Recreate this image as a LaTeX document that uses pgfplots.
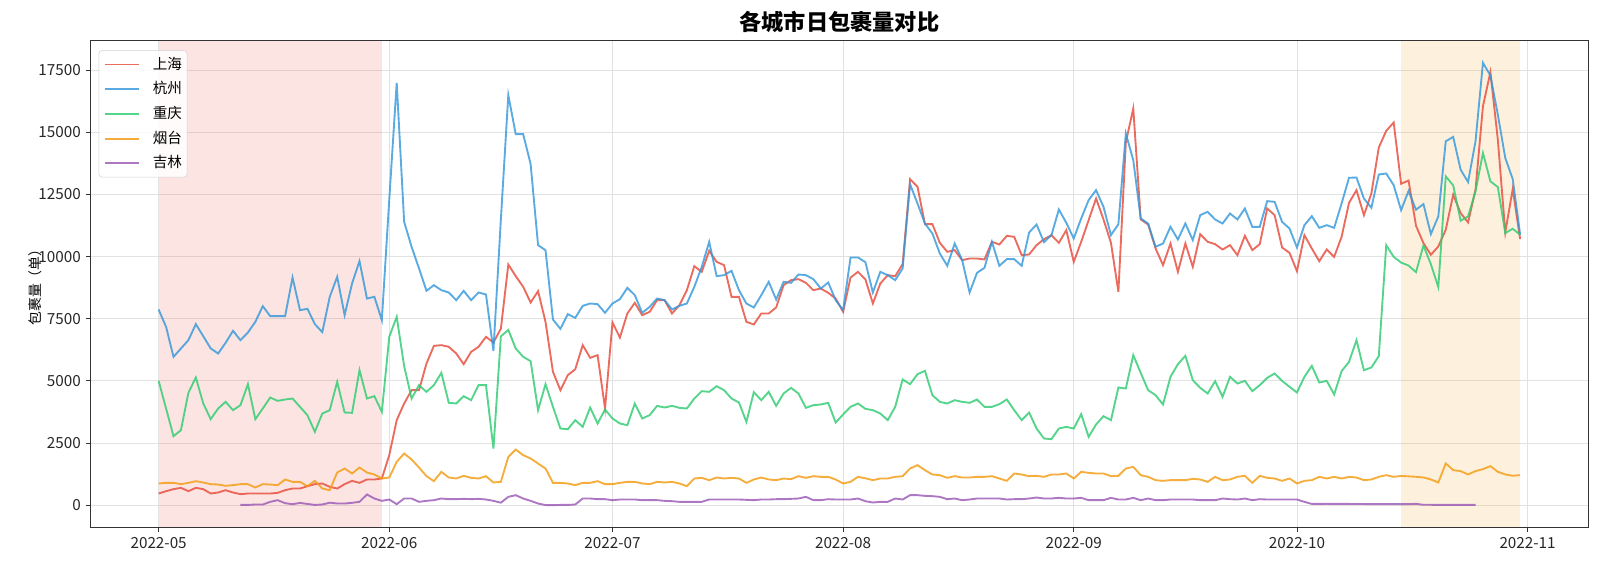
\documentclass[border=0pt]{standalone}
\usepackage{fontspec}
\setmainfont{Noto Sans CJK SC}
\usepackage{pgfplots}
\pgfplotsset{compat=1.18}
\definecolor{cSH}{HTML}{E74C3C}
\definecolor{cHZ}{HTML}{3498DB}
\definecolor{cCQ}{HTML}{2ECC71}
\definecolor{cYT}{HTML}{F39C12}
\definecolor{cJL}{HTML}{9B59B6}
\definecolor{gridc}{RGB}{226,226,226}
\definecolor{spinec}{HTML}{333333}
\begin{document}
\begin{tikzpicture}[x=1pt,y=1pt]
\path[use as bounding box] (0,0) rectangle (1153.44,408.24);
\begin{axis}[
  at={(65.2pt,28.58pt)}, anchor=south west,
  scale only axis, width=1078.3pt, height=350.35pt,
  xmin=-9.15, xmax=192.15, ymin=-890, ymax=18685,
  xtick={0,31,61,92,123,153,184},
  xticklabels={2022-05,2022-06,2022-07,2022-08,2022-09,2022-10,2022-11},
  ytick={0,2500,5000,7500,10000,12500,15000,17500},
  scaled y ticks=false,
  /pgf/number format/1000 sep={},
  /pgf/number format/assume math mode=true,
  tick label style={font=\fontsize{11}{13}\selectfont, text=black!85},
  tick pos=left, tick align=outside,
  major tick length=3.5pt,
  every tick/.style={spinec, line width=0.6pt},
  axis line style={spinec, line width=0.9pt},
  grid=major,
  major grid style={gridc, line width=0.6pt},
  title={各城市日包裹量对比},
  title style={at={(0.5,1)}, anchor=center, yshift=7.8pt, font=\bfseries\fontsize{16}{19}\selectfont},
  ylabel={包裹量（单）},
  ylabel style={at={(axis description cs:-0.0368,0.5)}, anchor=center, font=\fontsize{10}{12}\selectfont},
  legend style={at={(0.0054,0.980)}, anchor=north west, draw=black!18, fill=white, fill opacity=0.85, text opacity=1,
    rounded corners=2pt, font=\fontsize{10.5}{12}\selectfont, row sep=6.8pt, column sep=9.4pt,
    inner xsep=3.6pt, inner ysep=4.4pt,
    nodes={inner sep=0pt, text height=8.8pt, text depth=2.2pt}},
  legend cell align=left,
  legend image code/.code={\draw[#1] (0pt,0pt) -- (24.5pt,0pt);},
  every axis plot/.append style={line width=1.35pt, opacity=0.82},
]
\fill[cSH, fill opacity=0.15, draw opacity=0.2] (axis cs:0,-890) rectangle (axis cs:30,18685);
\fill[cYT, fill opacity=0.14] (axis cs:167,-890) rectangle (axis cs:183,18685);

\addplot[cSH] coordinates {(0,469)(1,563)(2,644)(3,697)(4,563)(5,697)(6,644)(7,469)(8,510)(9,603)(10,510)(11,443)(12,469)(13,469)(14,469)(15,469)(16,496)(17,603)(18,670)(19,670)(20,764)(21,845)(22,872)(23,738)(24,670)(25,845)(26,979)(27,898)(28,1033)(29,1033)(30,1073)(31,2012)(32,3420)(33,4090)(34,4626)(35,4626)(36,5699)(37,6410)(38,6437)(39,6370)(40,6102)(41,5672)(42,6169)(43,6370)(44,6772)(45,6544)(46,7100)(47,9682)(48,9213)(49,8784)(50,8153)(51,8609)(52,7376)(53,5364)(54,4626)(55,5230)(56,5471)(57,6437)(58,5927)(59,6035)(60,3889)(61,7349)(62,6745)(63,7711)(64,8140)(65,7644)(66,7778)(67,8247)(68,8247)(69,7711)(70,8046)(71,8649)(72,9615)(73,9387)(74,10232)(75,9789)(76,9655)(77,8381)(78,8381)(79,7376)(80,7268)(81,7711)(82,7711)(83,7952)(84,8851)(85,9052)(86,9092)(87,8944)(88,8649)(89,8717)(90,8542)(91,8314)(92,7778)(93,9159)(94,9387)(95,9080)(96,8113)(97,8918)(98,9253)(99,9213)(100,9695)(101,13115)(102,12807)(103,11305)(104,11305)(105,10554)(106,10192)(107,10259)(108,9856)(109,9923)(110,9923)(111,9883)(112,10594)(113,10487)(114,10835)(115,10795)(116,10058)(117,10085)(118,10460)(119,10700)(120,10862)(121,10554)(122,11063)(123,9789)(124,10594)(125,11466)(126,12337)(127,11492)(128,10554)(129,8582)(130,14600)(131,15958)(132,11492)(133,11291)(134,10326)(135,9655)(136,10527)(137,9387)(138,10527)(139,9588)(140,10902)(141,10594)(142,10500)(143,10285)(144,10460)(145,10058)(146,10835)(147,10259)(148,10500)(149,11935)(150,11667)(151,10366)(152,10151)(153,9414)(154,10862)(155,10326)(156,9816)(157,10285)(158,9990)(159,10795)(160,12163)(161,12672)(162,11667)(163,12538)(164,14389)(165,15059)(166,15395)(167,12930)(168,13060)(169,11241)(170,10543)(171,10073)(172,10408)(173,11080)(174,12490)(175,11751)(176,11375)(177,12691)(178,16049)(179,17419)(180,14706)(181,10973)(182,12718)(183,10704)};
\addlegendentry{上海}

\addplot[cHZ] coordinates {(0,7872)(1,7174)(2,5967)(3,6303)(4,6638)(5,7282)(6,6799)(7,6303)(8,6102)(9,6531)(10,7013)(11,6638)(12,6946)(13,7376)(14,8006)(15,7603)(16,7603)(17,7603)(18,9159)(19,7845)(20,7898)(21,7282)(22,6960)(23,8381)(24,9186)(25,7644)(26,8918)(27,9816)(28,8314)(29,8381)(30,7443)(31,12300)(32,16990)(33,11399)(34,10393)(35,9521)(36,8623)(37,8851)(38,8649)(39,8556)(40,8247)(41,8623)(42,8247)(43,8556)(44,8475)(45,6209)(46,11500)(47,16494)(48,14925)(49,14925)(50,13718)(51,10460)(52,10259)(53,7469)(54,7094)(55,7684)(56,7536)(57,8019)(58,8113)(59,8086)(60,7738)(61,8113)(62,8287)(63,8743)(64,8448)(65,7738)(66,7979)(67,8314)(68,8247)(69,7872)(70,8019)(71,8113)(72,8784)(73,9588)(74,10594)(75,9213)(76,9253)(77,9427)(78,8649)(79,8113)(80,7952)(81,8448)(82,8985)(83,8274)(84,8985)(85,8944)(86,9280)(87,9253)(88,9092)(89,8717)(90,8958)(91,8247)(92,7845)(93,9964)(94,9964)(95,9775)(96,8556)(97,9387)(98,9253)(99,9052)(100,9521)(101,12914)(102,12136)(103,11331)(104,10929)(105,10125)(106,9628)(107,10527)(108,9856)(109,8556)(110,9347)(111,9548)(112,10594)(113,9628)(114,9897)(115,9897)(116,9628)(117,10969)(118,11291)(119,10580)(120,10862)(121,11895)(122,11358)(123,10728)(124,11533)(125,12270)(126,12672)(127,12002)(128,10862)(129,11305)(130,14952)(131,13879)(132,11533)(133,11331)(134,10393)(135,10527)(136,11197)(137,10688)(138,11331)(139,10661)(140,11667)(141,11801)(142,11492)(143,11331)(144,11734)(145,11492)(146,11935)(147,11197)(148,11197)(149,12230)(150,12203)(151,11399)(152,11130)(153,10366)(154,11264)(155,11626)(156,11157)(157,11264)(158,11157)(159,12136)(160,13169)(161,13182)(162,12337)(163,11962)(164,13303)(165,13343)(166,12874)(167,11868)(168,12640)(169,11886)(170,12114)(171,10905)(172,11617)(173,14639)(174,14814)(175,13497)(176,13000)(177,14639)(178,17795)(179,17285)(180,15713)(181,13967)(182,13121)(183,10878)};
\addlegendentry{杭州}

\addplot[cCQ] coordinates {(0,5002)(1,3889)(2,2776)(3,3017)(4,4519)(5,5136)(6,4090)(7,3460)(8,3889)(9,4157)(10,3822)(11,4023)(12,4868)(13,3460)(14,3889)(15,4331)(16,4197)(17,4251)(18,4291)(19,3956)(20,3621)(21,2950)(22,3688)(23,3822)(24,4962)(25,3728)(26,3714)(27,5431)(28,4291)(29,4385)(30,3755)(31,6772)(32,7577)(33,5592)(34,4291)(35,4828)(36,4559)(37,4828)(38,5324)(39,4117)(40,4090)(41,4385)(42,4224)(43,4828)(44,4828)(45,2280)(46,6790)(47,7050)(48,6303)(49,5967)(50,5793)(51,3822)(52,4868)(53,3956)(54,3084)(55,3057)(56,3420)(57,3151)(58,3929)(59,3285)(60,3849)(61,3487)(62,3285)(63,3218)(64,4090)(65,3487)(66,3621)(67,3996)(68,3929)(69,3996)(70,3916)(71,3889)(72,4291)(73,4586)(74,4559)(75,4787)(76,4626)(77,4291)(78,4130)(79,3353)(80,4546)(81,4224)(82,4559)(83,3996)(84,4492)(85,4720)(86,4492)(87,3916)(88,4023)(89,4050)(90,4117)(91,3326)(92,3648)(93,3956)(94,4090)(95,3875)(96,3822)(97,3688)(98,3420)(99,3956)(100,5056)(101,4868)(102,5270)(103,5404)(104,4425)(105,4157)(106,4090)(107,4224)(108,4157)(109,4117)(110,4251)(111,3956)(112,3956)(113,4063)(114,4251)(115,3822)(116,3420)(117,3728)(118,3084)(119,2682)(120,2655)(121,3084)(122,3151)(123,3084)(124,3661)(125,2749)(126,3245)(127,3580)(128,3420)(129,4734)(130,4694)(131,6035)(132,5324)(133,4626)(134,4425)(135,4050)(136,5163)(137,5672)(138,6008)(139,5029)(140,4720)(141,4492)(142,4989)(143,4358)(144,5163)(145,4895)(146,5002)(147,4586)(148,4828)(149,5123)(150,5297)(151,5002)(152,4761)(153,4533)(154,5163)(155,5605)(156,4935)(157,5002)(158,4452)(159,5391)(160,5766)(161,6638)(162,5431)(163,5538)(164,5994)(165,10460)(166,9990)(167,9760)(168,9640)(169,9374)(170,10449)(171,9696)(172,8770)(173,13229)(174,12866)(175,11442)(176,11617)(177,12624)(178,14169)(179,13027)(180,12799)(181,10945)(182,11120)(183,10878)};
\addlegendentry{重庆}

\addplot[cYT] coordinates {(0,872)(1,898)(2,898)(3,845)(4,898)(5,965)(6,912)(7,845)(8,831)(9,778)(10,805)(11,845)(12,845)(13,711)(14,845)(15,831)(16,805)(17,1033)(18,939)(19,939)(20,764)(21,979)(22,670)(23,603)(24,1314)(25,1475)(26,1274)(27,1515)(28,1314)(29,1234)(30,1073)(31,1113)(32,1743)(33,2079)(34,1837)(35,1515)(36,1167)(37,966)(38,1341)(39,1113)(40,1073)(41,1180)(42,1100)(43,1073)(44,1167)(45,912)(46,939)(47,1944)(48,2239)(49,2012)(50,1877)(51,1676)(52,1475)(53,898)(54,898)(55,872)(56,805)(57,898)(58,898)(59,966)(60,845)(61,845)(62,898)(63,939)(64,939)(65,872)(66,845)(67,939)(68,912)(69,939)(70,872)(71,764)(72,1073)(73,1100)(74,1006)(75,1113)(76,1073)(77,1100)(78,1073)(79,898)(80,1033)(81,1113)(82,1033)(83,1006)(84,1073)(85,1046)(86,1167)(87,1100)(88,1167)(89,1140)(90,1140)(91,1033)(92,872)(93,939)(94,1140)(95,1080)(96,1006)(97,1073)(98,1073)(99,1140)(100,1167)(101,1475)(102,1609)(103,1408)(104,1234)(105,1207)(106,1100)(107,1167)(108,1113)(109,1113)(110,1140)(111,1140)(112,1167)(113,1073)(114,979)(115,1274)(116,1234)(117,1167)(118,1180)(119,1140)(120,1234)(121,1234)(122,1274)(123,1073)(124,1341)(125,1301)(126,1274)(127,1274)(128,1167)(129,1180)(130,1475)(131,1542)(132,1207)(133,1140)(134,1006)(135,979)(136,1006)(137,1006)(138,1006)(139,1059)(140,1033)(141,939)(142,1140)(143,1006)(144,1033)(145,1140)(146,1180)(147,898)(148,1180)(149,1100)(150,1073)(151,979)(152,1073)(153,872)(154,979)(155,1006)(156,1140)(157,1073)(158,1140)(159,1073)(160,1140)(161,1113)(162,1006)(163,1033)(164,1140)(165,1207)(166,1140)(167,1175)(168,1160)(169,1142)(170,1115)(171,1034)(172,913)(173,1679)(174,1410)(175,1370)(176,1236)(177,1370)(178,1450)(179,1571)(180,1343)(181,1236)(182,1182)(183,1209)};
\addlegendentry{烟台}

\addplot[cJL] coordinates {(11,10)(12,10)(13,27)(14,27)(15,134)(16,201)(17,80)(18,40)(19,90)(20,50)(21,10)(22,27)(23,100)(24,67)(25,67)(26,94)(27,134)(28,429)(29,268)(30,174)(31,228)(32,40)(33,268)(34,268)(35,134)(36,174)(37,201)(38,268)(39,241)(40,241)(41,255)(42,241)(43,255)(44,228)(45,174)(46,100)(47,335)(48,402)(49,268)(50,174)(51,67)(52,5)(53,0)(54,10)(55,10)(56,27)(57,268)(58,268)(59,241)(60,241)(61,201)(62,228)(63,228)(64,228)(65,201)(66,201)(67,201)(68,174)(69,161)(70,134)(71,134)(72,134)(73,134)(74,228)(75,228)(76,228)(77,228)(78,228)(79,215)(80,201)(81,228)(82,228)(83,241)(84,241)(85,255)(86,268)(87,335)(88,201)(89,201)(90,241)(91,228)(92,228)(93,228)(94,268)(95,161)(96,107)(97,134)(98,134)(99,268)(100,228)(101,402)(102,402)(103,375)(104,362)(105,335)(106,241)(107,268)(108,201)(109,228)(110,268)(111,268)(112,268)(113,268)(114,228)(115,241)(116,241)(117,268)(118,308)(119,268)(120,268)(121,295)(122,268)(123,268)(124,295)(125,201)(126,201)(127,201)(128,295)(129,228)(130,228)(131,295)(132,201)(133,268)(134,201)(135,201)(136,228)(137,228)(138,228)(139,228)(140,201)(141,201)(142,201)(143,268)(144,241)(145,228)(146,268)(147,201)(148,241)(149,228)(150,228)(151,228)(152,228)(153,228)(154,134)(155,50)(156,50)(157,55)(158,50)(159,50)(160,50)(161,45)(162,45)(163,40)(164,40)(165,45)(166,40)(167,40)(168,40)(169,55)(170,15)(171,15)(172,10)(173,10)(174,10)(175,10)(176,10)(177,10)};
\addlegendentry{吉林}
\end{axis}
\end{tikzpicture}
\end{document}
